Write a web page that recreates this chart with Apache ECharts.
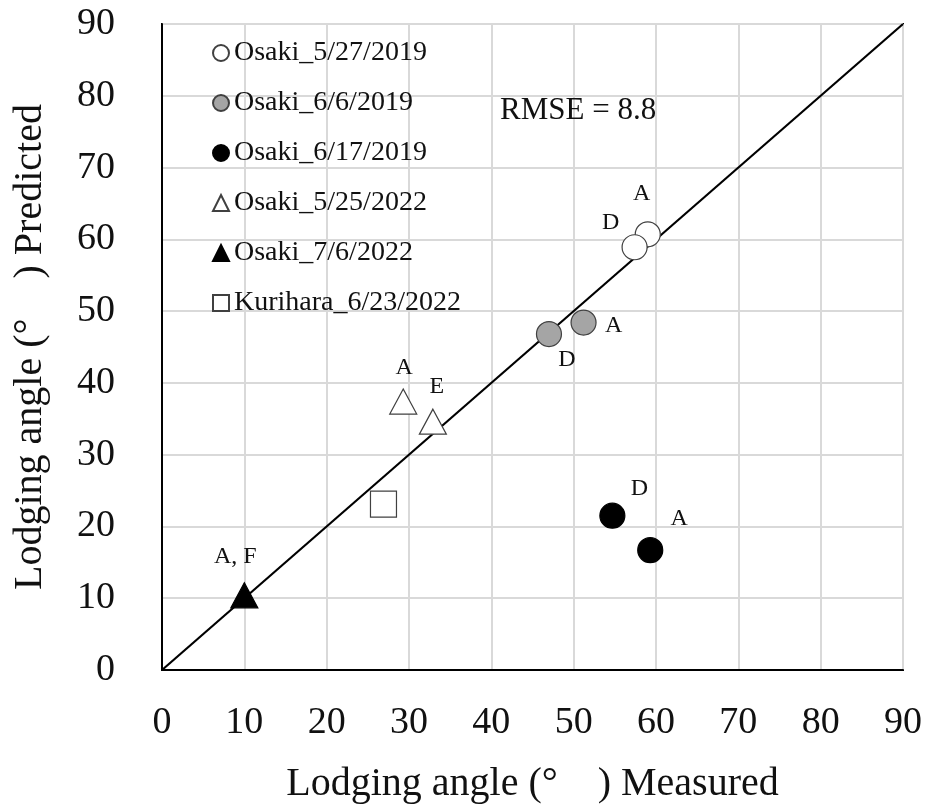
<!DOCTYPE html>
<html>
<head>
<meta charset="utf-8">
<script src="https://cdn.jsdelivr.net/npm/echarts@6/dist/echarts.min.js"></script>
<style>
  html, body { margin: 0; padding: 0; background: #fff; }
  #chart { width: 925px; height: 812px; }
</style>
</head>
<body>
<div id="chart"></div>
<script>
// Measured vs predicted lodging angle (degrees), per survey date
const seriesNames = [
  'Osaki_5/27/2019',
  'Osaki_6/6/2019',
  'Osaki_6/17/2019',
  'Osaki_5/25/2022',
  'Osaki_7/6/2022',
  'Kurihara_6/23/2022'
];
const osaki20190527 = [{ name: 'A', value: [59.0, 60.7] }, { name: 'D', value: [57.4, 58.9] }];
const osaki20190606 = [{ name: 'A', value: [51.2, 48.4] }, { name: 'D', value: [47.0, 46.8] }];
const osaki20190617 = [{ name: 'D', value: [54.7, 21.5] }, { name: 'A', value: [59.3, 16.7] }];
const osaki20220525 = [{ name: 'A', value: [29.3, 37.4] }, { name: 'E', value: [32.9, 34.6] }];
const osaki20220706 = [{ name: 'A, F', value: [10.0, 10.4] }];
const kurihara20220623 = [{ name: '', value: [26.9, 23.1] }];
const oneToOne = [[0, 0], [90, 90]];
const axisTicks = [0, 10, 20, 30, 40, 50, 60, 70, 80, 90];
const rmseText = 'RMSE = 8.8';

const FONT = '"Liberation Serif", "Times New Roman", serif';

// label placement relative to each marker (px), keyed by series then point name
const labelShift = {
  'Osaki_5/27/2019': { A: [-6, -41], D: [-24, -25] },
  'Osaki_6/6/2019': { A: [30, 3], D: [18, 26] },
  'Osaki_6/17/2019': { D: [27, -27], A: [29, -31] },
  'Osaki_5/25/2022': { A: [1, -34], E: [4, -35] },
  'Osaki_7/6/2022': { 'A, F': [-9, -39] },
  'Kurihara_6/23/2022': {}
};

const styles = [
  { symbol: 'circle', size: 25, color: '#ffffff', border: '#404040' },
  { symbol: 'circle', size: 25, color: '#a5a5a5', border: '#404040' },
  { symbol: 'circle', size: 25, color: '#000000', border: '#000000' },
  { symbol: 'triangle', size: [27, 25], color: '#ffffff', border: '#404040' },
  { symbol: 'triangle', size: [27, 25], color: '#000000', border: '#000000' },
  { symbol: 'rect', size: 26, color: '#ffffff', border: '#404040' }
];
const pointSets = [osaki20190527, osaki20190606, osaki20190617, osaki20220525, osaki20220706, kurihara20220623];

function withLabels(name, pts) {
  return pts.map(p => {
    const off = labelShift[name][p.name] || [0, 0];
    return {
      name: p.name,
      value: p.value,
      label: { show: p.name !== '', position: 'inside', offset: off, formatter: '{b}' }
    };
  });
}

const scatterSeries = seriesNames.map((name, i) => ({
  name: name,
  type: 'scatter',
  symbol: styles[i].symbol,
  symbolSize: styles[i].size,
  z: 5,
  itemStyle: { color: styles[i].color, borderColor: styles[i].border, borderWidth: 1.2, opacity: 1 },
  label: { color: '#111', fontFamily: FONT, fontSize: 24 },
  emphasis: { disabled: true },
  data: withLabels(name, pointSets[i])
}));

const axisCommon = {
  type: 'value',
  min: axisTicks[0],
  max: axisTicks[axisTicks.length - 1],
  interval: axisTicks[1] - axisTicks[0],
  nameLocation: 'middle',
  nameTextStyle: { fontFamily: FONT, fontSize: 40, color: '#111' },
  axisLine: { show: true, lineStyle: { color: '#000', width: 2 } },
  axisTick: { show: false },
  axisLabel: { fontFamily: FONT, fontSize: 38, color: '#111' },
  splitLine: { show: true, lineStyle: { color: '#d9d9d9', width: 2 } }
};

const chart = echarts.init(document.getElementById('chart'), null, { renderer: 'canvas' });
chart.setOption({
  animation: false,
  backgroundColor: '#ffffff',
  grid: {
    left: 162, right: 21, top: 24, bottom: 142,
    show: true, borderColor: '#000', borderWidth: 2, backgroundColor: 'transparent'
  },
  xAxis: Object.assign({}, axisCommon, {
    name: 'Lodging angle (°\u2003) Measured',
    nameGap: 94,
    axisLabel: Object.assign({}, axisCommon.axisLabel, { margin: 34 })
  }),
  yAxis: Object.assign({}, axisCommon, {
    name: 'Lodging angle (°\u2003) Predicted',
    nameGap: 112,
    axisLabel: Object.assign({}, axisCommon.axisLabel, { margin: 47 })
  }),
  legend: {
    data: seriesNames,
    orient: 'vertical',
    left: 212,
    top: 38,
    padding: 0,
    itemWidth: 16,
    itemHeight: 16,
    itemGap: 20,
    textStyle: { fontFamily: FONT, fontSize: 28, color: '#111', lineHeight: 30 },
    selectedMode: false
  },
  graphic: [{
    type: 'text',
    left: 500,
    top: 95,
    z: 20,
    style: { text: rmseText, fontFamily: FONT, fontSize: 31, fill: '#111' }
  }],
  series: [
    {
      name: '1:1',
      type: 'line',
      data: oneToOne,
      symbol: 'none',
      z: 3,
      lineStyle: { color: '#000', width: 2.2 },
      emphasis: { disabled: true },
      silent: true
    }
  ].concat(scatterSeries)
});
</script>
</body>
</html>
